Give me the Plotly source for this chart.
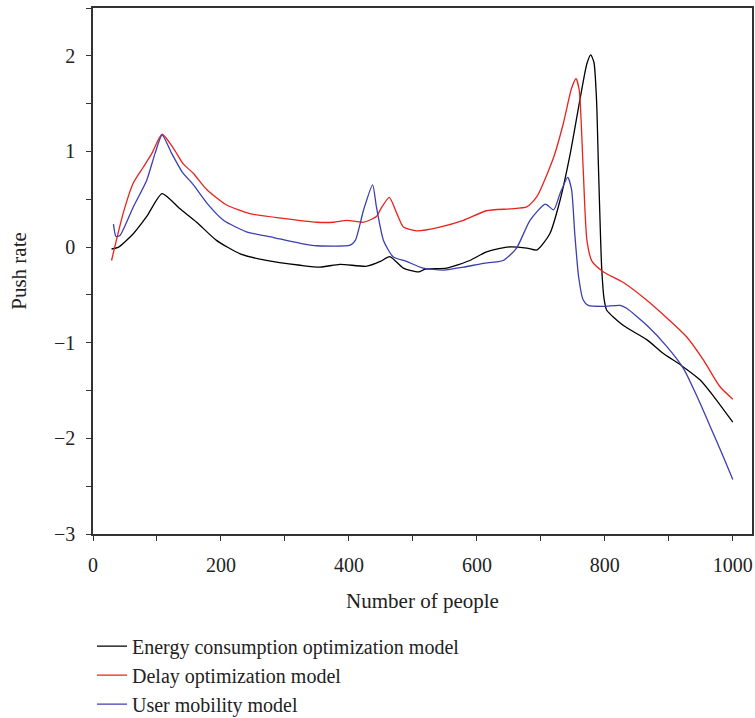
import plotly.graph_objects as go

# Energy consumption optimization model (black)
energy_x = [29, 40, 63, 84, 108, 136, 162, 193, 230, 271, 324, 355, 386, 428, 449, 464, 485, 509, 519, 553,
            589, 615, 647, 678, 694, 714, 730, 746, 761, 772, 778, 783, 787, 790, 795, 799, 803, 829, 866, 891,
            920, 949, 970, 1000]
energy_y = [-0.02, 0.0, 0.14, 0.32, 0.56, 0.40, 0.26, 0.07, -0.07, -0.14, -0.19, -0.21, -0.18, -0.20, -0.15,
            -0.10, -0.22, -0.26, -0.23, -0.22, -0.14, -0.05, 0.0, -0.01, -0.03, 0.14, 0.49, 0.98, 1.54, 1.92,
            2.01, 1.93, 1.54, 0.84, -0.21, -0.55, -0.66, -0.82, -0.97, -1.11, -1.24, -1.39, -1.56, -1.83]

# Delay optimization model (red)
delay_x = [29, 34, 47, 63, 79, 92, 108, 126, 141, 157, 178, 209, 245, 297, 350, 376, 397, 423, 443, 449,
           463, 475, 485, 506, 542, 579, 615, 652, 678, 694, 720, 735, 748, 755, 760, 766, 772, 780, 798,
           829, 868, 928, 954, 980, 1000]
delay_y = [-0.14, 0.0, 0.35, 0.67, 0.84, 0.98, 1.18, 1.03, 0.87, 0.77, 0.60, 0.44, 0.35, 0.30, 0.26, 0.26,
           0.28, 0.26, 0.32, 0.39, 0.52, 0.35, 0.21, 0.17, 0.21, 0.28, 0.38, 0.40, 0.42, 0.53, 0.94, 1.29,
           1.66, 1.76, 1.64, 0.84, 0.07, -0.15, -0.26, -0.37, -0.57, -0.94, -1.18, -1.46, -1.59]

# User mobility model (blue)
mobility_x = [32, 36, 42, 63, 84, 97, 108, 123, 139, 157, 178, 204, 240, 282, 324, 350, 402, 410, 423, 437,
              443, 454, 469, 490, 516, 548, 579, 610, 641, 662, 683, 707, 720, 730, 742, 748, 753, 759, 766,
              774, 798, 824, 834, 866, 897, 923, 944, 965, 985, 1000]
mobility_y = [0.24, 0.11, 0.12, 0.42, 0.70, 0.98, 1.17, 0.98, 0.79, 0.65, 0.46, 0.28, 0.16, 0.10, 0.04,
              0.014, 0.02, 0.07, 0.39, 0.65, 0.42, 0.07, -0.10, -0.15, -0.22, -0.24, -0.21, -0.17, -0.14,
              -0.01, 0.28, 0.45, 0.39, 0.56, 0.73, 0.60, 0.14, -0.31, -0.55, -0.61, -0.62, -0.61, -0.64,
              -0.82, -1.04, -1.27, -1.56, -1.88, -2.19, -2.43]

series_names = ["Energy consumption optimization model", "Delay optimization model", "User mobility model"]
series_colors = ["#000000", "#e8231b", "#3b3fae"]

x_ticks = [0, 200, 400, 600, 800, 1000]
y_ticks = [-3, -2, -1, 0, 1, 2]

FONT = "Liberation Serif"
TXT = "#222222"

fig = go.Figure()
for name, xs, ys, col in zip(series_names, [energy_x, delay_x, mobility_x],
                             [energy_y, delay_y, mobility_y], series_colors):
    fig.add_trace(go.Scatter(x=xs, y=ys, mode="lines", name=name,
                             line=dict(color=col, width=1.3, shape="spline", smoothing=0.6)))

axis_common = dict(showline=True, linecolor="#333333", linewidth=1.5, mirror=True,
                   showgrid=False, zeroline=False, ticks="outside", ticklen=5, tickwidth=1.2,
                   tickcolor="#333333", ticklabelstandoff=7,
                   tickfont=dict(family=FONT, size=20, color=TXT))

fig.update_xaxes(range=[0, 1030], tickvals=x_ticks, automargin=False,
                 minor=dict(ticks="outside", ticklen=5, tickwidth=1.2, tickcolor="#333333", dtick=100, tick0=0),
                 title=dict(text="Number of people", font=dict(family=FONT, size=21, color=TXT), standoff=19),
                 **axis_common)
fig.update_yaxes(range=[-3, 2.5], tickvals=y_ticks, automargin=False,
                 minor=dict(ticks="outside", ticklen=5, tickwidth=1.2, tickcolor="#333333", dtick=0.5, tick0=0),
                 title=dict(text="Push rate", font=dict(family=FONT, size=21, color=TXT), standoff=22),
                 **axis_common)

fig.update_layout(
    width=755, height=718,
    margin=dict(l=93, r=3, t=8, b=184, autoexpand=False),
    plot_bgcolor="white", paper_bgcolor="white",
    legend=dict(x=-0.0015, y=-0.176, xanchor="left", yanchor="top",
                font=dict(family=FONT, size=20, color=TXT), bgcolor="rgba(0,0,0,0)"),
    showlegend=True,
)

fig.write_html("out.html")
